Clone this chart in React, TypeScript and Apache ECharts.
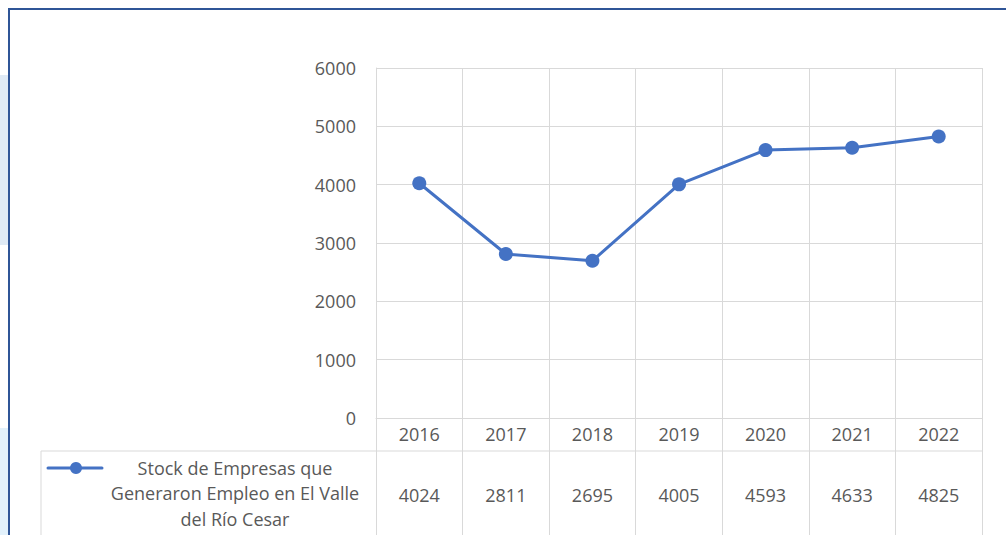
import React, { useEffect, useRef } from "react";
import * as echarts from "echarts";

const years = ["2016", "2017", "2018", "2019", "2020", "2021", "2022"];
const values = [4024, 2811, 2695, 4005, 4593, 4633, 4825];
const seriesName = "Stock de Empresas que\nGeneraron Empleo en El Valle\ndel Río Cesar";
const yTicks = { min: 0, max: 6000, interval: 1000 };

const FONT = "Open Sans";
const FS = 18;
const TXT = "#595959";
const GRID = "#d9d9d9";
const BLUE = "#4472C4";

export default function App() {
  const ref = useRef<HTMLDivElement>(null);
  useEffect(() => {
    if (!ref.current) return;
    const chart = echarts.init(ref.current, undefined, { renderer: "svg" });
    const option: any = {
      animation: false,
      backgroundColor: "#ffffff",
      textStyle: { fontFamily: FONT },
      grid: [
        { left: 376, top: 68, width: 606, height: 350 },
        { left: 376, top: 418, width: 606, height: 117 },
      ],
      xAxis: [
        {
          type: "category",
          gridIndex: 0,
          data: years,
          boundaryGap: true,
          axisLine: { show: true, lineStyle: { color: GRID, width: 1 } },
          axisTick: { show: false },
          splitLine: { show: true, interval: 0, lineStyle: { color: GRID, width: 1 } },
          axisLabel: { show: true, interval: 0, margin: 7, color: TXT, fontSize: FS, fontFamily: FONT },
        },
        {
          type: "category",
          gridIndex: 1,
          data: years,
          boundaryGap: true,
          axisLine: { show: false },
          axisTick: { show: false },
          axisLabel: { show: false },
          splitLine: { show: true, interval: 0, lineStyle: { color: GRID, width: 1 } },
        },
      ],
      yAxis: [
        {
          type: "value",
          gridIndex: 0,
          min: yTicks.min,
          max: yTicks.max,
          interval: yTicks.interval,
          axisLine: { show: true, lineStyle: { color: GRID, width: 1 } },
          axisTick: { show: false },
          splitLine: { show: true, lineStyle: { color: GRID, width: 1 } },
          axisLabel: {
            color: TXT,
            fontSize: FS,
            fontFamily: FONT,
            margin: 20,
            formatter: (v: number) => String(v),
          },
        },
        {
          type: "value",
          gridIndex: 1,
          min: 0,
          max: 1,
          show: false,
        },
      ],
      series: [
        {
          name: seriesName,
          type: "line",
          xAxisIndex: 0,
          yAxisIndex: 0,
          data: values,
          symbol: "circle",
          symbolSize: 14,
          lineStyle: { color: BLUE, width: 3 },
          itemStyle: { color: BLUE },
        },
        {
          type: "scatter",
          xAxisIndex: 1,
          yAxisIndex: 1,
          symbolSize: 1,
          itemStyle: { color: "rgba(0,0,0,0)", opacity: 1 },
          data: years.map((y, i) => [y, 0.342, values[i]]),
          label: {
            show: true,
            position: "inside",
            color: TXT,
            opacity: 1,
            fontSize: FS,
            fontFamily: FONT,
            formatter: (p: any) => String(p.value[2]),
          },
        },
      ],
      graphic: [
        { type: "rect", shape: { x: 0, y: 75, width: 8, height: 170 }, style: { fill: "#dfeaf5" } },
        { type: "rect", shape: { x: 0, y: 428, width: 8, height: 107 }, style: { fill: "#e2f1fb" } },
        {
          type: "rect",
          shape: { x: 9, y: 9, width: 1200, height: 700 },
          style: { fill: "none", stroke: "#2F5597", lineWidth: 2 },
        },
        { type: "line", shape: { x1: 41, y1: 451, x2: 982, y2: 451 }, style: { stroke: GRID, lineWidth: 1 } },
        { type: "line", shape: { x1: 41, y1: 451, x2: 41, y2: 540 }, style: { stroke: GRID, lineWidth: 1 } },
        { type: "line", shape: { x1: 48, y1: 468, x2: 102, y2: 468 }, style: { stroke: BLUE, lineWidth: 3, lineCap: "round" } },
        { type: "circle", shape: { cx: 76, cy: 468, r: 6 }, style: { fill: BLUE } },
        {
          type: "text",
          x: 235,
          y: 455,
          style: {
            text: seriesName,
            fill: TXT,
            fontSize: FS,
            fontFamily: FONT,
            align: "center",
            verticalAlign: "top",
            lineHeight: 25.5,
          },
        },
      ],
    };
    chart.setOption(option);
    return () => chart.dispose();
  }, []);
  return (
    <div
      ref={ref}
      style={{ position: "fixed", left: 0, top: 0, width: 1006, height: 535 }}
    />
  );
}
